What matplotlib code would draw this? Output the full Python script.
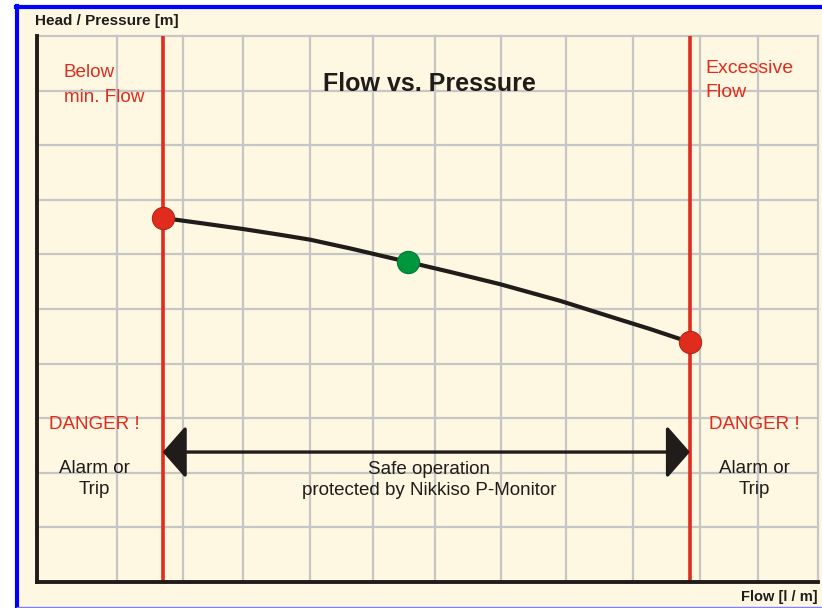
"""Flow vs. pressure chart with min/max flow trip limits."""
import matplotlib
matplotlib.use('Agg')
import matplotlib.pyplot as plt
from matplotlib.patches import Rectangle
from matplotlib.lines import Line2D

# flow axis runs 0..100, head axis 0..10 (no tick labels in the original)
flow_grid = [10.2, 18.7, 26.4, 35.0, 43.0, 50.9, 59.4, 67.7, 76.3, 84.9, 92.3, 100.0]
head_grid = [1, 2, 3, 4, 5, 6, 7, 8, 9, 10]

min_flow = 16.1
max_flow = 83.6

# pump curve
curve_flow = [16.13, 20.87, 26.38, 31.11, 34.96, 40.08, 47.50,
              52.88, 59.28, 66.97, 74.65, 78.49, 83.48]
curve_head = [6.667, 6.575, 6.465, 6.360, 6.270, 6.110, 5.861,
              5.680, 5.455, 5.150, 4.805, 4.634, 4.396]

# operating points
duty_flow = 47.5
duty_head = 5.86
limit_heads = [6.67, 4.40]

safe_arrow_head = 2.38

CREAM = '#fef7e2'
RED = '#df2c1c'
GREEN = '#00963c'
GRID = '#c6c6c6'
INK = '#201c1a'

W, H = 822, 608
fig = plt.figure(figsize=(W / 100, H / 100), dpi=100, facecolor='white')

# cream panel inside the blue frame
fig.patches.append(Rectangle((17 / W, 0), 1, 1 - 7 / H, transform=fig.transFigure,
                             facecolor=CREAM, edgecolor='none', zorder=-10))
fig.lines.append(Line2D([17 / W, 17 / W], [0, 1 - 6 / H], transform=fig.transFigure,
                        color='#0000ff', linewidth=3, zorder=1))
fig.lines.append(Line2D([16 / W, 1], [1 - 7 / H, 1 - 7 / H], transform=fig.transFigure,
                        color='#0000ff', linewidth=3, zorder=1))
fig.lines.append(Line2D([17 / W, 1], [0.6 / H, 0.6 / H], transform=fig.transFigure,
                        color='#8080ff', linewidth=1, zorder=1))

ax = fig.add_axes([37 / W, 26 / H, (818 - 37) / W, (582 - 36) / H])
ax.set_facecolor(CREAM)
ax.set_xlim(0, 100)
ax.set_ylim(0, 10)
ax.set_xticks([])
ax.set_yticks([])

# grid
for x in flow_grid:
    ax.axvline(x, color=GRID, linewidth=1.6, zorder=1, clip_on=False)
for y in head_grid:
    ax.axhline(y, color=GRID, linewidth=1.6, zorder=1, clip_on=False)

for side in ['top', 'right']:
    ax.spines[side].set_visible(False)
for side in ['left', 'bottom']:
    ax.spines[side].set_color(INK)
    ax.spines[side].set_linewidth(2.8)
    ax.spines[side].set_zorder(5)

# trip limits
ax.axvline(min_flow, color=RED, linewidth=2.6, zorder=2)
ax.axvline(max_flow, color=RED, linewidth=2.6, zorder=2)

# pump curve and points
ax.plot(curve_flow, curve_head, color=INK, linewidth=3, zorder=3,
        solid_capstyle='round', solid_joinstyle='round')
ax.plot([min_flow, max_flow], limit_heads, 'o', color=RED, markersize=16,
        markeredgecolor='#b82418', markeredgewidth=0.8, zorder=4)
ax.plot([duty_flow], [duty_head], 'o', color=GREEN, markersize=16,
        markeredgecolor='#00783a', markeredgewidth=0.8, zorder=4)

# safe operating range arrow
ax.annotate('', xy=(max_flow, safe_arrow_head), xytext=(min_flow, safe_arrow_head),
            arrowprops=dict(arrowstyle='<|-|>,head_length=1.45,head_width=1.65',
                            mutation_scale=10, color=INK, linewidth=2.4,
                            shrinkA=0, shrinkB=0),
            zorder=4)

font = 'Liberation Sans'

ax.text(50.2, 9.12, 'Flow vs. Pressure', ha='center', va='center',
        fontsize=18, fontweight='bold', color=INK, family=font, zorder=6)

ax.text(3.4, 9.1, 'Below\nmin. Flow', ha='left', va='center', fontsize=13.6,
        color=RED, family=font, linespacing=1.6, zorder=6)
ax.text(85.6, 9.18, 'Excessive\nFlow', ha='left', va='center', fontsize=14,
        color=RED, family=font, linespacing=1.55, zorder=6)

for xc in [7.3, 91.9]:
    ax.text(xc, 2.89, 'DANGER !', ha='center', va='center', fontsize=13.5,
            color=RED, family=font, zorder=6)
    ax.text(xc, 1.89, 'Alarm or\nTrip', ha='center', va='center', fontsize=13.5,
            color=INK, family=font, linespacing=1.3, zorder=6)

ax.text(50.2, 1.86, 'Safe operation\nprotected by Nikkiso P-Monitor',
        ha='center', va='center', fontsize=13.5, color=INK, family=font,
        linespacing=1.3, zorder=6)

fig.text(35 / W, 1 - 21.5 / H, 'Head / Pressure [m]', ha='left', va='center',
         fontsize=11, fontweight='bold', color=INK, family=font)
fig.text(818 / W, 1 - 596.5 / H, 'Flow [l / m]', ha='right', va='center',
         fontsize=10.5, fontweight='bold', color=INK, family=font)

fig.savefig('out.png', dpi=100, facecolor='white')
